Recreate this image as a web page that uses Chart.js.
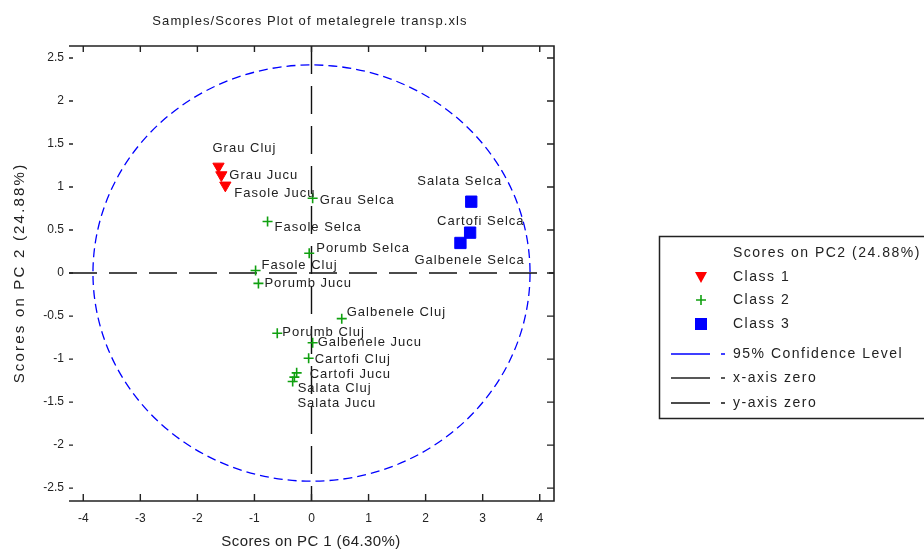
<!DOCTYPE html>
<html>
<head>
<meta charset="utf-8">
<script src="https://cdn.jsdelivr.net/npm/chart.js@4/dist/chart.umd.min.js"></script>
<style>
html, body { margin: 0; padding: 0; background: #fff; }
</style>
</head>
<body>
<canvas id="myChart" width="924" height="550"></canvas>
<script>
// scores
var class1Names = ['Grau Cluj', 'Grau Jucu', 'Fasole Jucu'];
var class1X = [-1.63, -1.58, -1.51];
var class1Y = [1.24, 1.14, 1.02];

var class2Names = ['Grau Selca', 'Fasole Selca', 'Porumb Selca', 'Fasole Cluj', 'Porumb Jucu', 'Galbenele Cluj',
    'Porumb Cluj', 'Galbenele Jucu', 'Cartofi Cluj', 'Cartofi Jucu', 'Salata Cluj', 'Salata Jucu'];
var class2X = [0.02, -0.77, -0.04, -0.98, -0.93, 0.53, -0.60, 0.02, -0.05, -0.26, -0.33, -0.30];
var class2Y = [0.87, 0.60, 0.23, 0.03, -0.12, -0.53, -0.70, -0.81, -0.99, -1.16, -1.26, -1.21];

var class3Names = ['Salata Selca', 'Cartofi Selca', 'Galbenele Selca'];
var class3X = [2.80, 2.78, 2.61];
var class3Y = [0.83, 0.47, 0.35];

// 95% confidence ellipse (centre and half axes)
var ellipseCenter = [0, 0];
var ellipseAxes = [3.83, 2.42];

var xTicks = [-4, -3, -2, -1, 0, 1, 2, 3, 4];
var yTicks = [-2.5, -2, -1.5, -1, -0.5, 0, 0.5, 1, 1.5, 2, 2.5];

var legendItems = ['Class 1', 'Class 2', 'Class 3', '95% Confidence Level', 'x-axis zero', 'y-axis zero'];

function toPoints(xs, ys) {
    return xs.map(function (x, i) { return { x: x, y: ys[i] }; });
}

var FONT = '"Liberation Sans", Arial, sans-serif';
var TXT = '#222';

// where each name sits relative to its marker
var labelOffsets = {
    'Grau Cluj': [-6, -18], 'Grau Jucu': [8, 0], 'Fasole Jucu': [9, 8],
    'Grau Selca': [7, 2], 'Fasole Selca': [7, 6], 'Porumb Selca': [7, -5], 'Fasole Cluj': [6, -5],
    'Porumb Jucu': [6, 0], 'Galbenele Cluj': [5, -6], 'Porumb Cluj': [5, -1], 'Galbenele Jucu': [5, 0],
    'Cartofi Cluj': [6, 1], 'Cartofi Jucu': [13, 2], 'Salata Cluj': [5, 7], 'Salata Jucu': [3, 26],
    'Salata Selca': [-54, -20], 'Cartofi Selca': [-33, -11], 'Galbenele Selca': [-46, 17]
};

var extras = {
    id: 'extras',
    beforeDatasetsDraw: function (chart) {
        var ctx = chart.ctx, xs = chart.scales.x, ys = chart.scales.y, a = chart.chartArea;
        ctx.save();
        // confidence ellipse
        var cx = xs.getPixelForValue(ellipseCenter[0]), cy = ys.getPixelForValue(ellipseCenter[1]);
        var rx = xs.getPixelForValue(ellipseCenter[0] + ellipseAxes[0]) - cx;
        var ry = cy - ys.getPixelForValue(ellipseCenter[1] + ellipseAxes[1]);
        ctx.strokeStyle = '#0000ff';
        ctx.lineWidth = 1.3;
        ctx.setLineDash([9, 5]);
        ctx.beginPath();
        ctx.ellipse(cx, cy, rx, ry, 0, 0, Math.PI * 2);
        ctx.stroke();
        // zero lines
        ctx.strokeStyle = '#111';
        ctx.lineWidth = 1.4;
        ctx.setLineDash([28, 12]);
        var y0 = ys.getPixelForValue(0), x0 = xs.getPixelForValue(0);
        ctx.beginPath();
        ctx.moveTo(a.left, y0); ctx.lineTo(a.right, y0);
        ctx.stroke();
        ctx.beginPath();
        ctx.moveTo(x0, a.top); ctx.lineTo(x0, a.bottom);
        ctx.stroke();
        ctx.restore();
    },
    afterDatasetsDraw: function (chart) {
        var ctx = chart.ctx;
        ctx.save();
        ctx.font = '13px ' + FONT;
        ctx.letterSpacing = '1px';
        ctx.fillStyle = TXT;
        ctx.textBaseline = 'middle';
        ctx.textAlign = 'left';
        chart.data.datasets.forEach(function (ds, di) {
            if (!ds.names) return;
            var meta = chart.getDatasetMeta(di);
            meta.data.forEach(function (pt, i) {
                var name = ds.names[i];
                var off = labelOffsets[name] || [6, 0];
                ctx.fillText(name, pt.x + off[0], pt.y + off[1]);
            });
        });
        ctx.restore();
    },
    afterDraw: function (chart) {
        var ctx = chart.ctx, xs = chart.scales.x, ys = chart.scales.y, a = chart.chartArea;
        ctx.save();
        // frame: top, right, bottom (no left line)
        ctx.strokeStyle = '#222';
        ctx.lineWidth = 1.6;
        ctx.beginPath();
        ctx.moveTo(a.left, a.top); ctx.lineTo(a.right, a.top); ctx.lineTo(a.right, a.bottom); ctx.lineTo(a.left, a.bottom);
        ctx.stroke();
        ctx.lineWidth = 1.4;
        xTicks.forEach(function (v) {
            var px = xs.getPixelForValue(v);
            ctx.beginPath();
            ctx.moveTo(px, a.bottom); ctx.lineTo(px, a.bottom - 7);
            ctx.moveTo(px, a.top); ctx.lineTo(px, a.top + 6);
            ctx.stroke();
        });
        yTicks.forEach(function (v) {
            var py = ys.getPixelForValue(v);
            ctx.beginPath();
            ctx.moveTo(a.left, py); ctx.lineTo(a.left + 4, py);
            ctx.moveTo(a.right, py); ctx.lineTo(a.right - 7, py);
            ctx.stroke();
        });

        // titles
        ctx.fillStyle = TXT;
        ctx.textAlign = 'center';
        ctx.textBaseline = 'middle';
        ctx.font = '13px ' + FONT;
        ctx.letterSpacing = '1.1px';
        ctx.fillText('Samples/Scores Plot of metalegrele transp.xls', 310, 21);
        ctx.font = '15px ' + FONT;
        ctx.letterSpacing = '0.4px';
        ctx.fillText('Scores on PC 1 (64.30%)', 311, 542);
        ctx.save();
        ctx.translate(20, 273);
        ctx.rotate(-Math.PI / 2);
        ctx.letterSpacing = '2.2px';
        ctx.fillText('Scores on PC 2 (24.88%)', 0, 0);
        ctx.restore();

        // legend box
        ctx.setLineDash([]);
        ctx.strokeStyle = '#222';
        ctx.lineWidth = 1.5;
        ctx.strokeRect(659.5, 236.5, 320, 182);
        ctx.font = '14px ' + FONT;
        ctx.letterSpacing = '1.5px';
        ctx.textAlign = 'left';
        ctx.fillText('Scores on PC2 (24.88%)', 733, 253);
        var rows = [277, 300, 324, 354, 378, 403];
        legendItems.forEach(function (t, i) {
            ctx.fillText(t, 733, rows[i]);
        });
        var mx = 701;
        // class 1 triangle
        ctx.fillStyle = '#ff0000';
        ctx.beginPath();
        ctx.moveTo(mx - 6, rows[0] - 5); ctx.lineTo(mx + 6, rows[0] - 5); ctx.lineTo(mx, rows[0] + 6);
        ctx.closePath(); ctx.fill();
        // class 2 plus
        ctx.strokeStyle = '#10a010';
        ctx.lineWidth = 1.6;
        ctx.beginPath();
        ctx.moveTo(mx - 5, rows[1]); ctx.lineTo(mx + 5, rows[1]);
        ctx.moveTo(mx, rows[1] - 5); ctx.lineTo(mx, rows[1] + 5);
        ctx.stroke();
        // class 3 square
        ctx.fillStyle = '#0000ff';
        ctx.fillRect(mx - 6, rows[2] - 6, 12, 12);
        // line samples
        var lineCols = ['#0000ff', '#222', '#111'];
        [3, 4, 5].forEach(function (r, k) {
            ctx.strokeStyle = lineCols[k];
            ctx.lineWidth = 1.4;
            ctx.beginPath();
            ctx.moveTo(671, rows[r]); ctx.lineTo(710, rows[r]);
            ctx.moveTo(721, rows[r]); ctx.lineTo(725, rows[r]);
            ctx.stroke();
        });
        ctx.restore();
    }
};

function plainTick(v) { return String(v); }

var ctx = document.getElementById('myChart').getContext('2d');
var myChart = new Chart(ctx, {
    type: 'scatter',
    data: {
        datasets: [{
            label: 'Class 1',
            names: class1Names,
            data: toPoints(class1X, class1Y),
            pointStyle: 'triangle',
            rotation: 180,
            radius: 6.5,
            backgroundColor: '#ff0000',
            borderColor: '#ff0000',
            borderWidth: 1
        }, {
            label: 'Class 2',
            names: class2Names,
            data: toPoints(class2X, class2Y),
            pointStyle: 'cross',
            radius: 5,
            borderColor: '#10a010',
            borderWidth: 1.6
        }, {
            label: 'Class 3',
            names: class3Names,
            data: toPoints(class3X, class3Y),
            pointStyle: 'rect',
            radius: 8,
            backgroundColor: '#0000ff',
            borderColor: '#0000ff',
            borderWidth: 1
        }]
    },
    options: {
        responsive: false,
        animation: false,
        events: [],
        layout: { padding: { left: 0, top: 46, right: 370, bottom: 0 } },
        plugins: { legend: { display: false }, title: { display: false }, tooltip: { enabled: false } },
        scales: {
            x: {
                type: 'linear',
                min: -4.25,
                max: 4.25,
                afterBuildTicks: function (s) { s.ticks = xTicks.map(function (v) { return { value: v }; }); },
                afterFit: function (s) { s.height = 49; },
                grid: { display: false, drawTicks: false },
                border: { display: false },
                ticks: { color: TXT, font: { family: FONT, size: 12 }, padding: 10, maxRotation: 0, callback: plainTick }
            },
            y: {
                type: 'linear',
                min: -2.65,
                max: 2.64,
                afterBuildTicks: function (s) { s.ticks = yTicks.map(function (v) { return { value: v }; }); },
                afterFit: function (s) { s.width = 69; },
                grid: { display: false, drawTicks: false },
                border: { display: false },
                ticks: { color: TXT, font: { family: FONT, size: 12 }, padding: 5, callback: plainTick }
            }
        }
    },
    plugins: [extras]
});
</script>
</body>
</html>
